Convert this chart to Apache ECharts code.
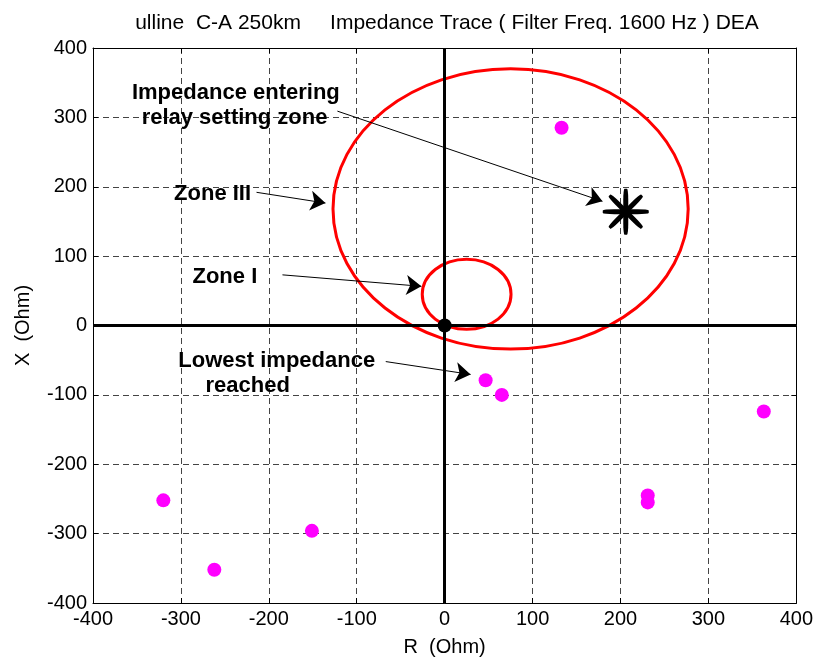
<!DOCTYPE html>
<html>
<head>
<meta charset="utf-8">
<script src="https://cdn.jsdelivr.net/npm/echarts@6/dist/echarts.min.js"></script>
<style>
  html, body { margin: 0; padding: 0; background: #fff; }
  #chart { width: 816px; height: 662px; }
</style>
</head>
<body>
<div id="chart"></div>
<script>
// relay zones: [R centre, X centre, radius] in Ohm
const zones = [[75, 168, 202], [25, 45, 50.5]]
// impedance trace samples (magenta)
const tracePoints = [
  [133, 285], [46.6, -79], [65, -100], [363, -124],
  [231, -245], [231, -255], [-320, -252], [-151, -296], [-262, -352],
]
const originPoint = [[0, 0]]
const enterPoint = [206, 164]

// annotations
const noteText = ['Impedance entering', 'relay setting zone', 'Zone III', 'Zone I', 'Lowest impedance', 'reached']
const notePos = [[-237.5, 335.5], [-239, 299], [-264, 190], [-250, 70.5], [-191, -51], [-224, -87]]
const arrowFrom = [[-122, 309], [-214, 192], [-184.5, 73], [-67, -52]]
const arrowTo = [[179.5, 179], [-135.6, 176.5], [-26.5, 56.5], [29.5, -70.5]]

const FONT = 'Liberation Sans, Arial, sans-serif'

const chart = echarts.init(document.getElementById('chart'))

const axisCommon = {
  type: 'value', min: -400, max: 400, interval: 100,
  axisLine: { show: true, onZero: false, lineStyle: { color: '#000', width: 1 } },
  axisTick: { show: true, inside: true, length: 5, lineStyle: { color: '#000' } },
}

chart.setOption({
  animation: false,
  title: {
    text: 'ulline  C-A 250km     Impedance Trace ( Filter Freq. 1600 Hz ) DEA',
    left: 442, top: 8, textAlign: 'center',
    textStyle: { fontFamily: FONT, fontSize: 21, fontWeight: 'normal', color: '#000' },
  },
  grid: { left: 93, right: 19, top: 48, bottom: 58 },
  xAxis: [
    {
      ...axisCommon, position: 'bottom',
      name: 'R  (Ohm)', nameLocation: 'middle', nameGap: 34,
      nameTextStyle: { fontFamily: FONT, fontSize: 20, color: '#000' },
      axisLabel: { fontFamily: FONT, fontSize: 20, color: '#000', margin: 6 },
      splitLine: { show: true, lineStyle: { color: '#444', type: [6, 4], width: 1 } },
    },
    { ...axisCommon, position: 'top', axisLabel: { show: false }, splitLine: { show: false } },
  ],
  yAxis: [
    {
      ...axisCommon, position: 'left',
      name: 'X  (Ohm)', nameLocation: 'middle', nameGap: 60,
      nameTextStyle: { fontFamily: FONT, fontSize: 20, color: '#000' },
      axisLabel: { fontFamily: FONT, fontSize: 20, color: '#000', margin: 6 },
      splitLine: { show: true, lineStyle: { color: '#444', type: [6, 4], width: 1 } },
    },
    { ...axisCommon, position: 'right', axisLabel: { show: false }, splitLine: { show: false } },
  ],
  series: [
    // R = 0 and X = 0 axes
    {
      type: 'line', data: [], silent: true,
      markLine: {
        silent: true, symbol: 'none', label: { show: false },
        lineStyle: { color: '#000', width: 3, type: 'solid' },
        data: [{ xAxis: 0 }, { yAxis: 0 }],
      },
    },
    // zone circles
    {
      type: 'custom',
      data: zones,
      renderItem(params, api) {
        const c = api.coord([api.value(0), api.value(1)])
        const s = api.size([api.value(2), api.value(2)])
        return {
          type: 'ellipse',
          shape: { cx: c[0], cy: c[1], rx: s[0], ry: s[1] },
          style: { fill: 'none', stroke: '#ff0000', lineWidth: 3 },
        }
      },
    },
    {
      type: 'scatter', data: tracePoints, symbolSize: 14,
      itemStyle: { color: '#ff00ff', opacity: 1 },
    },
    {
      type: 'scatter', data: originPoint, symbolSize: 14,
      itemStyle: { color: '#000', opacity: 1 },
    },
    // asterisk made of four rotated bars
    {
      type: 'scatter', symbol: 'roundRect', symbolSize: [5, 46],
      itemStyle: { color: '#000', opacity: 1 },
      data: [0, 45, 90, 135].map(a => ({ value: enterPoint, symbolRotate: a })),
    },
    {
      type: 'lines', coordinateSystem: 'cartesian2d', silent: true,
      symbol: ['none', 'arrow'], symbolSize: [10, 15],
      lineStyle: { color: '#000', width: 1, opacity: 1 },
      data: arrowFrom.map((p, i) => ({ coords: [p, arrowTo[i]] })),
    },
    {
      type: 'scatter', symbolSize: 1, silent: true,
      itemStyle: { color: 'rgba(0,0,0,0)', opacity: 1 },
      label: {
        show: true, position: 'inside', formatter: '{b}',
        fontFamily: FONT, fontSize: 22, fontWeight: 'bold', color: '#000', opacity: 1,
      },
      data: noteText.map((t, i) => ({ name: t, value: notePos[i] })),
    },
  ],
})
</script>
</body>
</html>
